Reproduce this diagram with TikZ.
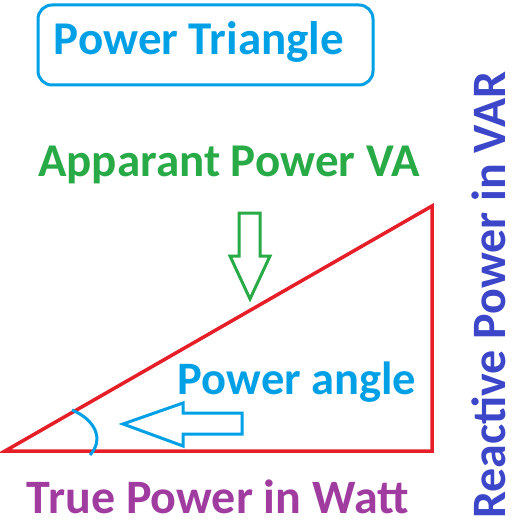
\documentclass[tikz,border=0pt]{standalone}
\usepackage{fontspec}
\setmainfont{Carlito}
\definecolor{tred}{RGB}{230,30,40}
\definecolor{tcyan}{RGB}{0,160,230}
\definecolor{tgreen}{RGB}{40,170,70}
\definecolor{tpurple}{RGB}{160,60,160}
\definecolor{tblue}{RGB}{60,70,200}
\begin{document}
\begin{tikzpicture}[x=1pt,y=-1pt,
  lbl/.style={inner sep=0pt, font=\fontsize{48}{52}\selectfont\bfseries},
  side/.style={draw=tred, line width=3.5pt, line join=miter},
  outl/.style={line width=3pt, line join=miter}]
\useasboundingbox (0,0) rectangle (532,532);
\fill[white] (0,0) rectangle (532,532);
% title
\draw[tcyan, line width=3pt, rounded corners=14pt] (38,5) rectangle (373,85);
\node[lbl, text=tcyan, font=\fontsize{47}{50}\selectfont\bfseries] (title) at (199,42) {Power Triangle};
% triangle
\coordinate (A) at (5,451);
\coordinate (B) at (432,206);
\coordinate (C) at (432,451);
\draw[side] (A) -- (B) -- (C) -- cycle;
% labels
\node[lbl, text=tgreen, font=\fontsize{47}{50}\selectfont\bfseries] (app) at (229,165) {Apparant Power VA};
\node[lbl, text=tcyan, font=\fontsize{46.5}{50}\selectfont\bfseries] (ang) at (297,382) {Power angle};
\node[lbl, text=tpurple] (true) at (218,497) {True Power in Watt};
\node[lbl, text=tblue, rotate=90] (react) at (489,295) {Reactive Power in VAR};
% green arrow
\draw[outl, draw=tgreen] (239,213) -- (260,213) -- (260,256) -- (270,256) -- (250,299) -- (230,256) -- (239,256) -- cycle;
% blue arrow
\draw[outl, draw=tcyan] (123,424) -- (183,403) -- (183,413) -- (242,413) -- (242,434) -- (183,434) -- (183,446) -- cycle;
% angle arc
\draw[tcyan, line width=3pt] (72,410) .. controls (96,420) and (104,440) .. (90,455);
\end{tikzpicture}
\end{document}
